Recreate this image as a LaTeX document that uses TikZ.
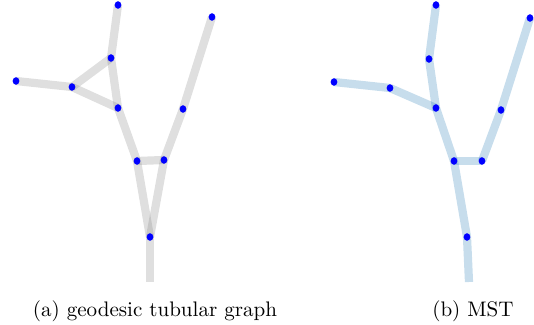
\documentclass[tikz,border=0pt]{standalone}
\usetikzlibrary{shapes.geometric,backgrounds}
\definecolor{tubegray}{RGB}{128,128,128}
\definecolor{tubeblue}{RGB}{31,119,180}
\tikzset{
  vertex/.style={ellipse, fill=blue, inner sep=0pt, minimum width=3.2pt, minimum height=3.6pt},
  graytube/.style={draw=tubegray, draw opacity=0.25, line width=3.9pt},
  bluetube/.style={draw=tubeblue, draw opacity=0.25, line width=3.9pt},
  caption/.style={inner sep=0pt}
}
\begin{document}
\begin{tikzpicture}[x=0.475pt, y=-0.475pt]
    \useasboundingbox (0,0) rectangle (534,325);

    % Puntos del grafo geodesico
    \foreach \n/\x/\y in {a1/118/5, a2/111/58, a3/72/87, a4/16/81, a5/118/108,
                          a6/137/161, a7/164/160, a8/183/109, a9/212/17, a10/150/237}
        \node[vertex] (\n) at (\x,\y) {};
    \coordinate (a11) at (150,282);

    % Puntos del MST
    \foreach \n/\x/\y in {b1/436/5, b2/429/59, b3/390/88, b4/334/82, b5/436/108,
                          b6/454/161, b7/482/161, b8/501/110, b9/530/18, b10/467/237}
        \node[vertex] (\n) at (\x,\y) {};
    \coordinate (b11) at (469,282);

    \begin{pgfonlayer}{background}
        % Tubos (a)
        \foreach \u/\v in {a1/a2, a2/a3, a2/a5, a3/a4, a3/a5, a5/a6, a6/a7,
                           a7/a8, a8/a9, a6/a10, a7/a10, a10/a11}
            \draw[graytube] (\u.center) -- (\v.center);
        % Tubos (b)
        \foreach \u/\v in {b1/b2, b2/b5, b3/b4, b3/b5, b5/b6, b6/b7,
                           b7/b8, b8/b9, b6/b10, b10/b11}
            \draw[bluetube] (\u.center) -- (\v.center);
    \end{pgfonlayer}

    % Leyendas
    \node[caption] (capa) at (155,311) {(a) geodesic tubular graph};
    \node[caption] (capb) at (473,311) {(b) MST};
\end{tikzpicture}
\end{document}
